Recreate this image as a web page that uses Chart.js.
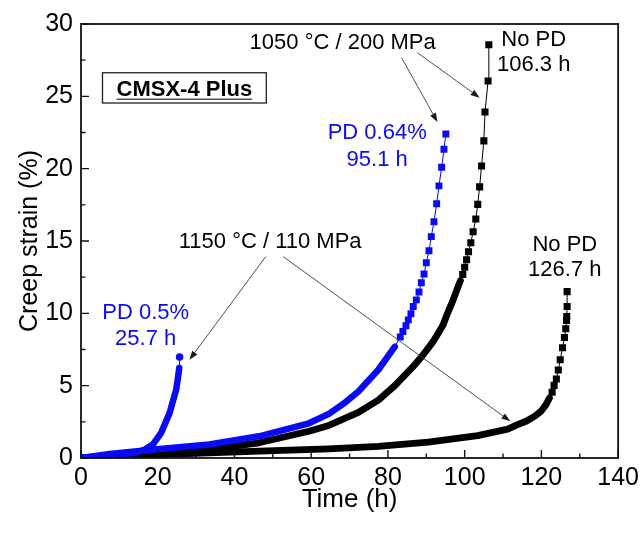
<!DOCTYPE html>
<html>
<head>
<meta charset="utf-8">
<script src="https://cdn.jsdelivr.net/npm/chart.js@4"></script>
<style>
  html, body { margin: 0; padding: 0; background: #fff; }
  #wrap { width: 644px; height: 535px; }
</style>
</head>
<body>
<div id="wrap"><canvas id="chart"></canvas></div>
<script>
// creep curves, time in h and strain in %
const time05 = [0, 7.5, 14.4, 16.6, 18.7, 20.9, 23.1, 24.8, 25.3, 25.6, 25.7];
const strain05 = [0, 0.2, 0.36, 0.59, 0.93, 1.74, 3.12, 4.72, 5.6, 6.22, 6.98];

const time064 = [0, 7.5, 20.5, 33.4, 46.4, 59.4, 64.6, 68.9, 72.3, 77.5, 81.8, 83.2, 83.9, 84.7, 85.3, 86.0, 86.6, 87.4, 88.1, 88.7, 89.4, 90.0, 90.7, 91.3, 92.0, 92.7, 93.3, 94.0, 94.6, 95.1];
const strain064 = [0, 0.28, 0.62, 0.93, 1.5, 2.4, 3.05, 3.85, 4.6, 6.1, 7.7, 8.36, 8.74, 9.14, 9.55, 9.97, 10.47, 10.93, 11.48, 12.12, 12.72, 13.5, 14.33, 15.3, 16.33, 17.57, 18.81, 20.1, 21.34, 22.4];

const time1050 = [0, 10, 20, 33.4, 46.4, 59.4, 64.6, 68.9, 72.3, 77.5, 81.8, 86.6, 88.75, 90.5, 91.8, 93.1, 94.4, 95.2, 96.1, 97.0, 97.7, 98.3, 98.9, 99.5, 100.0, 100.5, 101.0, 101.6, 102.2, 102.9, 103.4, 103.9, 104.4, 105.0, 105.3, 106.1, 106.3];
const strain1050 = [0, 0.15, 0.3, 0.6, 1.05, 1.85, 2.25, 2.75, 3.15, 4.0, 5.0, 6.33, 7.0, 7.6, 8.06, 8.63, 9.21, 9.78, 10.36, 10.93, 11.43, 11.85, 12.26, 12.68, 13.19, 13.71, 14.26, 14.88, 15.64, 16.52, 17.53, 18.74, 20.19, 21.92, 23.92, 26.06, 28.57];

const time1150 = [0, 20.5, 46.4, 64.6, 77.5, 90.5, 103.4, 111.2, 113.8, 116.0, 118.2, 119.9, 121.2, 122.1, 122.8, 123.3, 123.9, 124.4, 124.9, 125.5, 126.0, 126.35, 126.55, 126.6, 126.7, 126.7];
const strain1150 = [0, 0.24, 0.47, 0.63, 0.8, 1.1, 1.55, 2.0, 2.31, 2.54, 2.88, 3.23, 3.69, 4.15, 4.54, 5.02, 5.46, 6.08, 6.79, 7.62, 8.33, 8.93, 9.5, 9.78, 10.47, 11.5];

const xTicks = [0, 20, 40, 60, 80, 100, 120, 140];
const yTicks = [0, 5, 10, 15, 20, 25, 30];

const BLUE = '#0a0af5';
const FONT = '"Liberation Sans", Arial, sans-serif';

// below "sparseFrom" the logged points sit so close that they merge into a band
function curve(label, xs, ys, color, style, radius, sparseFrom, band) {
  return {
    label,
    data: xs.map((t, i) => ({ x: t, y: ys[i] })),
    borderColor: color,
    backgroundColor: color,
    pointStyle: style,
    pointRadius: ctx => (ctx.raw && ctx.raw.y >= sparseFrom ? radius : 0),
    pointBorderWidth: 0,
    pointHoverRadius: 0,
    borderWidth: 1,
    borderCapStyle: 'round',
    borderJoinStyle: 'round',
    segment: {
      borderWidth: ctx => (ctx.p1.parsed.y > sparseFrom ? 1 : band)
    },
    tension: 0
  };
}

const notes = [
  { text: '1050 °C / 200 MPa', t: 68.2, s: 28.66, color: '#000' },
  { text: 'No PD', t: 118.0, s: 28.93, color: '#000' },
  { text: '106.3 h', t: 118.0, s: 27.14, color: '#000' },
  { text: 'PD 0.64%', t: 77.2, s: 22.45, color: BLUE },
  { text: '95.1 h', t: 77.2, s: 20.6, color: BLUE },
  { text: 'PD 0.5%', t: 16.85, s: 10.03, color: BLUE },
  { text: '25.7 h', t: 16.85, s: 8.2, color: BLUE },
  { text: '1150 °C / 110 MPa', t: 49.3, s: 14.95, color: '#000' },
  { text: 'No PD', t: 126.1, s: 14.76, color: '#000' },
  { text: '126.7 h', t: 126.1, s: 12.97, color: '#000' }
];

const arrows = [
  { from: [83.56, 27.67], to: [92.9, 23.23] },
  { from: [87.7, 28.01], to: [103.9, 24.91] },
  { from: [48.15, 13.92], to: [28.26, 6.79] },
  { from: [52.7, 13.92], to: [111.9, 2.54] }
];

const annotate = {
  id: 'annotate',
  afterDatasetsDraw(chart) {
    const { ctx, chartArea: a, scales: { x, y } } = chart;
    ctx.save();

    // frame and inward ticks
    ctx.strokeStyle = '#111';
    ctx.lineWidth = 1.8;
    ctx.strokeRect(a.left, a.top, a.right - a.left, a.bottom - a.top);
    ctx.lineWidth = 1.4;
    ctx.beginPath();
    for (let v = 0; v <= 140; v += 10) {
      const px = x.getPixelForValue(v);
      const len = v % 20 ? 4.5 : 8;
      ctx.moveTo(px, a.bottom);
      ctx.lineTo(px, a.bottom - len);
    }
    for (let v = 0; v <= 30; v += 2.5) {
      const py = y.getPixelForValue(v);
      const len = v % 5 ? 4.5 : 8;
      ctx.moveTo(a.left, py);
      ctx.lineTo(a.left + len, py);
    }
    ctx.stroke();

    // arrows
    ctx.strokeStyle = '#3a3a3a';
    ctx.fillStyle = '#1a1a1a';
    ctx.lineWidth = 0.9;
    arrows.forEach(ar => {
      const x0 = x.getPixelForValue(ar.from[0]), y0 = y.getPixelForValue(ar.from[1]);
      const x1 = x.getPixelForValue(ar.to[0]), y1 = y.getPixelForValue(ar.to[1]);
      const ang = Math.atan2(y1 - y0, x1 - x0);
      const head = 9, half = 3.2;
      ctx.beginPath();
      ctx.moveTo(x0, y0);
      ctx.lineTo(x1 - Math.cos(ang) * head, y1 - Math.sin(ang) * head);
      ctx.stroke();
      ctx.beginPath();
      ctx.moveTo(x1, y1);
      ctx.lineTo(x1 - Math.cos(ang) * head - Math.sin(ang) * half, y1 - Math.sin(ang) * head + Math.cos(ang) * half);
      ctx.lineTo(x1 - Math.cos(ang) * head + Math.sin(ang) * half, y1 - Math.sin(ang) * head - Math.cos(ang) * half);
      ctx.closePath();
      ctx.fill();
    });

    // curve labels
    ctx.font = '22px ' + FONT;
    ctx.textAlign = 'center';
    ctx.textBaseline = 'middle';
    notes.forEach(n => {
      ctx.fillStyle = n.color;
      ctx.fillText(n.text, x.getPixelForValue(n.t), y.getPixelForValue(n.s));
    });

    // alloy box
    const bx = x.getPixelForValue(5.6), by = y.getPixelForValue(26.63);
    const bw = x.getPixelForValue(48.3) - bx, bh = y.getPixelForValue(24.54) - by;
    ctx.strokeStyle = '#222';
    ctx.lineWidth = 1.3;
    ctx.strokeRect(bx, by, bw, bh);
    ctx.font = 'bold 22px ' + FONT;
    ctx.fillStyle = '#000';
    ctx.textBaseline = 'alphabetic';
    const label = 'CMSX-4 Plus';
    const cx = bx + bw / 2, base = by + bh / 2 + 8;
    ctx.fillText(label, cx, base);
    const w = ctx.measureText(label).width;
    ctx.strokeStyle = '#555';
    ctx.lineWidth = 1.5;
    ctx.beginPath();
    ctx.moveTo(cx - w / 2, base + 3.5);
    ctx.lineTo(cx + w / 2, base + 3.5);
    ctx.stroke();

    ctx.restore();
  }
};

new Chart(document.getElementById('chart'), {
  type: 'line',
  data: {
    datasets: [
      curve('PD 0.5%', time05, strain05, BLUE, 'circle', 3.8, 6.5, 6.5),
      curve('PD 0.64%', time064, strain064, BLUE, 'rect', 4.9, 8.2, 6.5),
      curve('No PD 1050', time1050, strain1050, '#000', 'rect', 5, 12.5, 6.8),
      curve('No PD 1150', time1150, strain1150, '#000', 'rect', 5, 4.3, 6.8)
    ]
  },
  options: {
    responsive: true,
    maintainAspectRatio: false,
    animation: false,
    events: [],
    layout: { padding: { top: 24, right: 23, left: 0, bottom: 0 } },
    plugins: { legend: { display: false }, tooltip: { enabled: false } },
    scales: {
      x: {
        type: 'linear',
        min: 0,
        max: 140,
        afterFit: s => { s.height = 77; },
        afterBuildTicks: s => { s.ticks = xTicks.map(v => ({ value: v })); },
        grid: { display: false, drawTicks: false },
        border: { display: false },
        ticks: { padding: 5, color: '#000', font: { family: FONT, size: 25 } },
        title: { display: true, text: 'Time (h)', color: '#000', padding: { top: 0, bottom: 20 }, font: { family: FONT, size: 26 } }
      },
      y: {
        min: 0,
        max: 30,
        afterFit: s => { s.width = 81; },
        afterBuildTicks: s => { s.ticks = yTicks.map(v => ({ value: v })); },
        grid: { display: false, drawTicks: false },
        border: { display: false },
        ticks: { padding: 8, color: '#000', font: { family: FONT, size: 25 } },
        title: { display: true, text: 'Creep strain (%)', color: '#000', padding: { top: 15, bottom: 0 }, font: { family: FONT, size: 25 } }
      }
    }
  },
  plugins: [annotate]
});
</script>
</body>
</html>
